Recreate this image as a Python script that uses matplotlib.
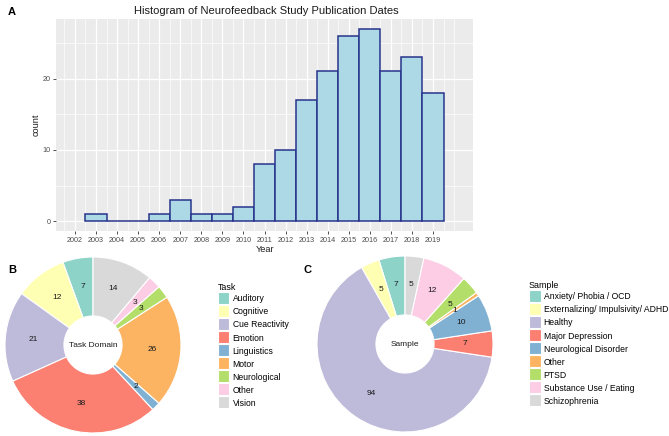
import matplotlib
matplotlib.use("Agg")
import matplotlib.pyplot as plt
from matplotlib.patches import Rectangle
from matplotlib.legend_handler import HandlerPatch
import numpy as np

plt.rcParams['font.family'] = ['Liberation Sans', 'DejaVu Sans']

# ---------------- data ----------------
years = [2003, 2004, 2005, 2006, 2007, 2008, 2009, 2010, 2011, 2012,
         2013, 2014, 2015, 2016, 2017, 2018, 2019]
counts = [1, 0, 0, 1, 3, 1, 1, 2, 8, 10, 17, 21, 26, 27, 21, 23, 18]
year_ticks = list(range(2002, 2020))

task_names = ["Auditory", "Cognitive", "Cue Reactivity", "Emotion", "Linguistics",
              "Motor", "Neurological", "Other", "Vision"]
task_vals = [7, 12, 21, 38, 2, 26, 3, 3, 14]

sample_names = ["Anxiety/ Phobia / OCD", "Externalizing/ Impulsivity/ ADHD", "Healthy",
                "Major Depression", "Neurological Disorder", "Other", "PTSD",
                "Substance Use / Eating", "Schizophrenia"]
sample_vals = [7, 5, 94, 7, 10, 1, 5, 12, 5]

set3 = ["#8DD3C7", "#FFFFB3", "#BEBADA", "#FB8072", "#80B1D3",
        "#FDB462", "#B3DE69", "#FCCDE5", "#D9D9D9"]

W, H = 669, 436
fig = plt.figure(figsize=(W / 100, H / 100), dpi=100)
fig.patch.set_facecolor('white')


def fx(x):
    return x / W


def fy(y):
    return 1 - y / H


# ---------------- panel A: histogram ----------------
ax = fig.add_axes([fx(56), fy(231), fx(473 - 56), (231 - 19) / H])
ax.set_facecolor('#EBEBEB')
ax.bar(years, counts, width=1.0, color='#ADD8E6', edgecolor='#27348B',
       linewidth=1.1, zorder=3)
ax.set_xlim(2001.1, 2020.9)
ax.set_ylim(-1.35, 28.35)
ax.set_xticks(year_ticks)
ax.set_xticklabels([str(y) for y in year_ticks])
ax.set_yticks([0, 10, 20])
ax.set_xticks([y + 0.5 for y in range(2001, 2020)] + [2020], minor=True)
ax.set_yticks([5, 15, 25], minor=True)
ax.grid(which='major', color='white', linewidth=0.9, zorder=0)
ax.grid(which='minor', color='white', linewidth=0.45, zorder=0)
ax.set_axisbelow(True)
for s in ax.spines.values():
    s.set_visible(False)
ax.tick_params(which='major', length=2.5, width=0.6, color='#333333',
               labelcolor='#4D4D4D', labelsize=5.2, pad=1.5)
ax.tick_params(which='minor', length=0)

fig.text(fx(266), fy(11), "Histogram of Neurofeedback Study Publication Dates",
         ha='center', va='center', fontsize=8.05, color='#1a1a1a')
fig.text(fx(36), fy(125), "count", rotation=90, ha='center', va='center',
         fontsize=6.6, color='#1a1a1a')
fig.text(fx(265), fy(249), "Year", ha='center', va='center',
         fontsize=6.6, color='#1a1a1a')

fig.text(fx(8), fy(12), "A", ha='left', va='center', fontsize=8,
         fontweight='bold')
fig.text(fx(8), fy(270), "B", ha='left', va='center', fontsize=8,
         fontweight='bold')
fig.text(fx(303), fy(270), "C", ha='left', va='center', fontsize=8,
         fontweight='bold')


# ---------------- donuts ----------------
def donut(cx, cy, r, vals, center_text):
    a = fig.add_axes([fx(cx - r), fy(cy + r), 2 * r / W, 2 * r / H])
    total = sum(vals)
    wedges, texts, autotexts = a.pie(
        vals, colors=set3, startangle=90, counterclock=True, radius=1,
        wedgeprops=dict(width=1 - 0.33, edgecolor='white', linewidth=0.8),
        autopct=lambda p: f"{int(round(p * total / 100))}", pctdistance=0.68,
        textprops=dict(fontsize=6.0, color='#1a1a1a'))
    a.text(0, 0, center_text, ha='center', va='center', fontsize=6.0,
           color='#1a1a1a')
    a.set_xlim(-1, 1)
    a.set_ylim(-1, 1)
    a.set_aspect('equal')
    a.axis('off')
    return wedges


wB = donut(93, 345, 88, task_vals, "Task Domain")
wC = donut(405, 344, 88, sample_vals, "Sample")

LEG_FS = 6.2
ROW_PT = 13.1 * 72 / 100      # row pitch in points
KEY_H = 12.0 * 72 / 100       # key height in points
KEY_W = 11.5 * 72 / 100       # key width in points
# legend box height = fs*hh - 0.35*fs*(hh-0.7)  -> solve for row pitch
HH = (ROW_PT / LEG_FS - 0.245) / 0.65


def key_patch(legend, orig_handle, xdescent, ydescent, width, height, fontsize):
    y0 = -ydescent + (height - KEY_H) / 2 + 0.7
    return Rectangle((-xdescent, y0), KEY_W, KEY_H,
                     facecolor=orig_handle.get_facecolor(), edgecolor='none')


hmap = {matplotlib.patches.Wedge: HandlerPatch(patch_func=key_patch)}
legkw = dict(loc='upper left', frameon=False, fontsize=LEG_FS, title_fontsize=6.4,
             handlelength=KEY_W / LEG_FS, handleheight=HH,
             handletextpad=0.35, labelspacing=0.0, borderpad=0, borderaxespad=0,
             alignment='left', handler_map=hmap)
fig.legend(handles=wB, labels=task_names, title="Task",
           bbox_to_anchor=(fx(218), fy(283)), **legkw)
fig.legend(handles=wC, labels=sample_names, title="Sample",
           bbox_to_anchor=(fx(529), fy(281)), **legkw)

fig.savefig("out.png", dpi=100, facecolor='white')
